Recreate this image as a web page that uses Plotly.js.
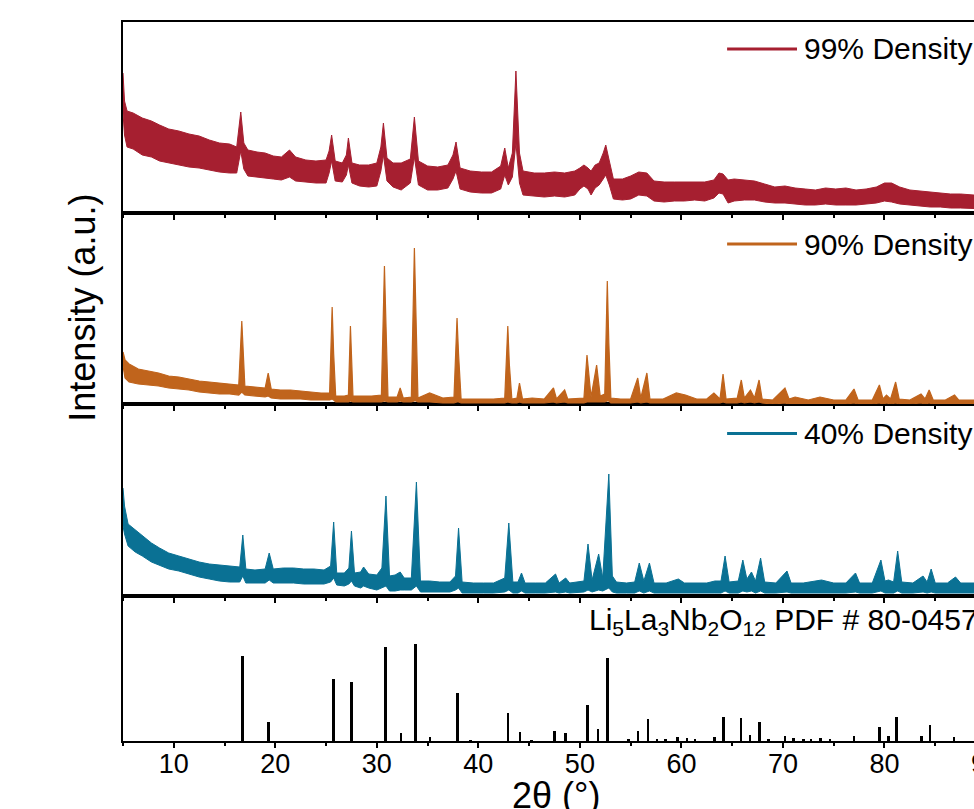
<!DOCTYPE html>
<html><head><meta charset="utf-8">
<script src="https://cdn.plot.ly/plotly-3.0.1.min.js"></script>
<style>html,body{margin:0;padding:0;overflow:hidden;background:#fff;width:974px;height:809px}#chart{width:1000px;height:809px}</style>
</head><body><div id="chart"></div><script>
// ---- 99% density (upper / lower envelope of the noisy pattern, a.u.) ----
const tt99 = [5.0,5.15,5.4,6.0,6.9,7.8,8.6,9.5,10.5,11.5,12.5,13.5,14.5,15.5,16.2,16.6,16.9,17.3,18.2,19.0,19.8,20.6,21.4,22.0,23.0,24.0,25.0,25.3,25.55,25.9,26.6,27.0,27.2,27.55,28.3,29.2,30.0,30.4,30.65,31.0,31.6,32.4,33.3,33.7,34.1,35.0,36.0,37.0,37.5,37.8,38.2,39.2,40.3,41.3,42.2,42.6,42.95,43.35,43.7,44.05,44.4,45.5,46.5,47.5,48.5,49.5,50.0,50.4,50.8,51.1,51.5,51.9,52.3,52.55,52.9,53.3,54.2,55.0,55.8,56.6,57.3,58.3,59.3,60.3,61.3,62.3,63.2,63.7,64.1,64.6,65.2,66.2,67.2,68.2,69.2,70.2,71.2,72.2,73.2,74.2,75.2,76.2,77.2,78.2,79.2,80.0,80.7,81.5,82.5,83.5,84.5,85.5,86.5,87.5,88.5,90.0];
const hi99 = [140,112,102,100,95,92,88,84,82,79,77,73,70,69,66,101,70,63,61,60,57,56,63,56,53,52,53,62,78,52,50,58,75,50,48,48,50,66,90,55,50,50,54,96,52,47,46,48,58,71,45,42,41,41,47,65,45,60,142,60,42,40,40,41,40,42,45,48,45,42,48,50,60,68,52,34,34,37,41,40,32,31,31,31,31,31,33,40,39,33,34,33,32,29,26,27,25,24,23,25,24,25,23,24,26,30,30,26,23,22,21,20,19,19,18,17];
const lo99 = [100,78,66,64,58,56,52,50,48,46,45,43,41,40,40,62,44,37,36,35,34,33,36,32,31,30,30,40,52,32,31,38,48,30,27,26,27,42,58,32,26,23,30,56,28,23,23,25,34,42,24,21,20,20,24,38,28,36,70,30,18,17,16,17,16,18,24,27,24,18,25,28,34,38,28,14,13,14,18,17,12,11,12,12,13,12,15,20,19,10,12,13,13,11,10,10,9,8,8,9,8,8,8,9,10,12,11,9,8,7,6,6,5,5,5,4];

// ---- 90% density ----
const tt90 = [5.0,5.2,5.6,6.5,7.5,8.5,9.5,10.5,11.5,12.5,13.5,14.5,15.5,16.4,16.7,17.0,18.0,19.0,19.3,19.6,20.5,21.5,22.5,23.5,24.5,25.35,25.6,25.75,25.95,26.8,27.2,27.4,27.65,28.5,29.5,30.45,30.75,30.9,31.1,32.0,32.3,32.6,33.4,33.7,33.85,34.05,35.2,36.5,37.6,37.9,38.05,38.3,40.0,41.5,42.6,42.9,43.05,43.3,43.8,44.05,44.35,45.3,46.5,47.4,47.7,48.5,48.8,50.4,50.7,50.85,51.1,51.65,51.8,52.0,52.45,52.7,52.85,53.05,54.0,55.0,55.7,56.0,56.6,56.9,58.2,59.5,60.4,61.5,62.5,63.2,63.8,64.1,64.4,65.5,65.9,66.2,66.8,67.2,67.65,67.95,69.0,70.2,70.6,71.2,72.5,73.65,75.0,76.2,77.0,77.4,78.8,79.5,79.85,80.2,80.6,81.1,81.45,82.5,83.6,84.0,84.4,84.8,86.0,86.9,87.3,88.5,90.0];
const hi90 = [52,44,40,35,33,31,28,27,25,23,22,21,20,19,83,18,17,16,31,15,14,14,13,12,11,11,97,50,8,8,9,78,8,8,8,9,138,80,7,7,16,6,7,156,86,6,11,6,7,86,50,5,5,5,6,78,40,5,6,21,5,6,5,16,5,14,5,6,49,30,7,39,24,8,10,123,61,6,5,5,26,6,31,5,5,11,9,5,5,11,5,30,5,6,24,6,14,6,24,5,4,16,5,7,4,7,4,4,15,4,4,19,5,9,5,22,5,4,10,5,14,4,4,9,4,4,4];
const lo90 = [38,26,22,20,19,18,16,15,14,12,11,10,10,9,12,9,8,7,8,6,5,5,5,4,4,4,5,4,2,2,2,3,2,2,2,2,3,3,2,2,3,2,2,3,3,2,2,1,1,2,2,1,1,1,1,2,2,1,1,2,1,1,1,2,1,2,1,1,2,2,2,2,2,2,2,3,3,1,1,1,2,1,2,1,1,1,1,1,1,1,1,2,1,1,2,1,2,1,2,1,0,1,0,0,0,0,0,0,1,0,0,1,0,1,0,1,0,0,1,0,1,0,0,0,0,0,0];

// ---- 40% density ----
const tt40 = [5.0,5.15,5.5,6.2,6.9,7.8,8.6,9.5,10.5,11.5,12.5,13.5,14.5,15.5,16.5,16.8,17.1,18.0,19.0,19.4,19.8,20.8,21.8,22.8,23.8,24.8,25.45,25.75,26.05,26.8,27.25,27.5,27.8,28.4,28.7,29.2,30.0,30.5,30.9,31.25,31.8,32.3,32.7,33.4,33.9,34.3,35.2,36.2,37.2,37.75,38.05,38.4,39.5,40.5,41.5,42.6,43.0,43.4,43.9,44.25,44.6,45.6,46.6,47.6,47.95,48.6,49.0,50.4,50.8,51.2,51.85,52.25,52.85,53.2,53.6,54.6,55.4,55.85,56.3,56.85,57.3,58.5,59.7,60.3,61.5,62.5,63.3,63.9,64.3,64.7,65.6,66.05,66.45,66.9,67.3,67.8,68.2,69.3,70.4,70.8,72.0,73.8,75.0,76.2,77.15,77.55,78.8,79.65,80.05,80.4,80.9,81.3,81.7,82.8,83.8,84.2,84.6,85.0,86.2,87.0,87.5,88.8,90.0];
const hi40 = [108,90,72,66,60,53,48,43,40,37,34,32,31,30,29,61,27,26,27,43,27,28,28,27,27,26,30,74,23,23,28,65,23,24,29,22,21,28,100,20,21,24,18,18,114,15,15,14,14,20,68,14,13,13,13,18,73,14,14,23,13,13,13,22,13,18,13,15,52,16,42,18,122,20,14,13,14,33,15,33,13,13,17,13,13,13,15,15,40,14,15,36,17,24,15,38,14,13,25,13,13,16,13,13,23,13,13,36,15,16,14,45,14,13,20,14,27,13,13,19,13,13,13];
const lo40 = [70,62,50,44,40,34,31,27,25,22,19,17,15,14,14,20,13,13,13,16,13,13,13,12,12,12,14,18,11,10,12,15,10,8,10,8,6,8,10,5,5,6,6,6,10,4,4,4,4,6,8,3,3,3,3,4,6,3,3,5,3,3,3,4,3,4,3,4,6,4,6,5,8,4,3,3,3,5,3,5,3,3,3,3,3,3,3,3,5,3,3,5,4,5,3,5,3,3,4,3,3,3,3,3,4,3,3,5,3,3,3,5,3,3,4,3,4,3,3,3,3,3,3];

// ---- Li5La3Nb2O12 PDF # 80-0457 reference lines ----
const pdfPos = [16.78,19.34,25.73,27.5,30.84,32.38,33.83,35.24,37.96,39.24,42.94,44.12,45.24,47.5,48.58,50.74,51.79,52.74,54.8,55.72,56.7,57.59,58.41,59.62,60.54,61.36,63.26,64.17,65.88,66.77,67.69,68.57,70.2,71.06,72.0,72.77,73.7,74.64,77.0,79.49,80.37,81.19,83.65,84.47,86.86];
const pdfInt = [85,19,62,59,94,8,97,4,48,1.5,28,9,1.5,10,8,36,12,83,2,10,22,2,2,4,3,2,4,24,23,6,19,2,5,3,2,2,3,2,5,14,5,24,5,16,4];

const seriesNames = ['99% Density','90% Density','40% Density'];
const colors = ['#A61F30','#C0641C','#0A7194'];

function band(x, hi, lo){
  return {x: x.concat(x.slice().reverse()), y: hi.concat(lo.slice().reverse())};
}
const b99 = band(tt99, hi99, lo99), b90 = band(tt90, hi90, lo90), b40 = band(tt40, hi40, lo40);

const traces = [
  {type:'scatter', mode:'lines', x:b99.x, y:b99.y, fill:'toself', fillcolor:colors[0], line:{color:colors[0], width:1}, xaxis:'x4', yaxis:'y4', name:seriesNames[0]},
  {type:'scatter', mode:'lines', x:b90.x, y:b90.y, fill:'toself', fillcolor:colors[1], line:{color:colors[1], width:1.2}, xaxis:'x3', yaxis:'y3', name:seriesNames[1]},
  {type:'scatter', mode:'lines', x:b40.x, y:b40.y, fill:'toself', fillcolor:colors[2], line:{color:colors[2], width:1}, xaxis:'x2', yaxis:'y2', name:seriesNames[2]},
  {type:'bar', x:pdfPos, y:pdfInt, width:0.25, marker:{color:'#000', line:{width:0}}, xaxis:'x', yaxis:'y', name:'PDF'}
];

const F = 'Arial, "Liberation Sans", sans-serif';
function xa(anchor, labels){
  return {anchor:anchor, range:[5,90], showline:true, mirror:true, linewidth:2, linecolor:'#000',
    ticks:'outside', ticklen:5, tickwidth:2, tickcolor:'#000', tick0:0, dtick:10,
    minor:{ticks:'outside', ticklen:3, tickwidth:2, tickcolor:'#000', dtick:5, showgrid:false},
    showgrid:false, zeroline:false, showticklabels:labels, ticklabeloverflow:'allow', ticklabelstandoff:-7,
    tickfont:{family:F, size:27, color:'#000'},
    matches: anchor==='y' ? undefined : 'x', fixedrange:true};
}
function ya(dom, r){
  return {domain:dom, range:r, showline:true, mirror:true, linewidth:2, linecolor:'#000',
    ticks:'', showticklabels:false, showgrid:false, zeroline:false, fixedrange:true};
}
const d1 = 145/719, d2 = 337/719, d3 = 528/719;

const legendY = [(741-49)/719, (741-244)/719, (741-433.5)/719];
const annotations = seriesNames.map((n,i)=>({xref:'paper', yref:'paper', x:0.7865, y:legendY[i], xanchor:'left', yanchor:'middle',
  text:n, showarrow:false, font:{family:F, size:30, color:'#000'}}));
annotations.push({xref:'paper', yref:'paper', x:0.5373, y:0.166, xanchor:'left', yanchor:'middle',
  text:'Li<sub>5</sub>La<sub>3</sub>Nb<sub>2</sub>O<sub>12</sub> PDF # 80-0457', showarrow:false, font:{family:F, size:30, color:'#000'}});
annotations.push({xref:'paper', yref:'paper', x:-0.0469, y:0.602, xanchor:'center', yanchor:'middle', textangle:-90,
  text:'Intensity (a.u.)', showarrow:false, font:{family:F, size:36, color:'#000'}});
annotations.push({xref:'paper', yref:'paper', x:0.5017, y:-0.0445, xanchor:'center', yanchor:'top',
  text:'2θ (°)', showarrow:false, font:{family:F, size:36, color:'#000'}});

const shapes = colors.map((c,i)=>({type:'line', xref:'paper', yref:'paper', x0:0.700, x1:0.781, y0:legendY[i], y1:legendY[i], line:{color:c, width:3}}));

const layout = {
  width:1000, height:809, margin:{l:123, r:14, t:22, b:68},
  paper_bgcolor:'#fff', plot_bgcolor:'rgba(0,0,0,0)', showlegend:false,
  font:{family:F, color:'#000'},
  xaxis: xa('y', true), xaxis2: xa('y2', false), xaxis3: xa('y3', false), xaxis4: xa('y4', false),
  yaxis: ya([0,d1],[0,145]), yaxis2: ya([d1,d2],[0,192]), yaxis3: ya([d2,d3],[0,191]), yaxis4: ya([d3,1],[0,191]),
  annotations: annotations, shapes: shapes, bargap:0
};
Plotly.newPlot('chart', traces, layout, {staticPlot:true, displayModeBar:false});
</script></body></html>
